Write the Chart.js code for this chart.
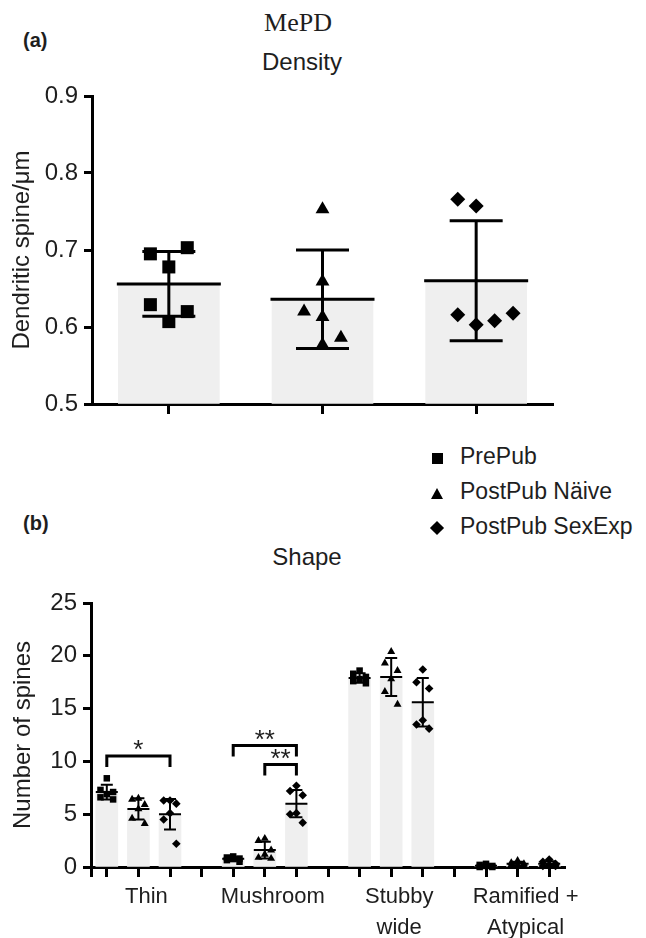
<!DOCTYPE html>
<html>
<head>
<meta charset="utf-8">
<script src="https://cdn.jsdelivr.net/npm/chart.js@4.4.1/dist/chart.umd.min.js"></script>
<style>
  body { margin: 0; background: #fff; }
  #page { position: relative; width: 646px; height: 938px; overflow: hidden; font-family: 'Liberation Sans', Arial, sans-serif; color: #1e1e1e; }
  #page canvas { position: absolute; left: 0; }
  .txt { position: absolute; white-space: nowrap; line-height: 1; }
  .mark { position: absolute; background: #000; }
</style>
</head>
<body>
<div id="page">
  <div class="txt" style="left:198px;width:200px;text-align:center;top:8px;font:26px 'Liberation Serif', 'Times New Roman', serif;">MePD</div>
  <div class="txt" style="left:23px;top:30px;font-weight:bold;font-size:20px;">(a)</div>
  <div class="txt" style="left:202px;width:200px;text-align:center;top:50px;font-size:24px;">Density</div>

  <div class="txt" style="left:460px;top:445px;font-size:23px;">PrePub</div>
  <div class="txt" style="left:460px;top:480px;font-size:23px;">PostPub Näive</div>
  <div class="txt" style="left:460px;top:515px;font-size:23px;">PostPub SexExp</div>
  <div class="mark" style="left:432px;top:453px;width:11px;height:11px;"></div>
  <div class="mark" style="left:431px;top:488px;background:none;border-left:6.5px solid transparent;border-right:6.5px solid transparent;border-bottom:11px solid #000;width:0;height:0;"></div>
  <div class="mark" style="left:432px;top:523px;width:10px;height:10px;transform:rotate(45deg);"></div>

  <div class="txt" style="left:23px;top:513px;font-weight:bold;font-size:20px;">(b)</div>
  <div class="txt" style="left:207px;width:200px;text-align:center;top:545px;font-size:24px;">Shape</div>

  <canvas id="densityChart" width="646" height="430" style="top:0"></canvas>
  <canvas id="shapeChart" width="646" height="378" style="top:560px"></canvas>
</div>

<script>
// ---- panel (a): spine density ----
const densityGroups = ['PrePub', 'PostPub Näive', 'PostPub SexExp']
const densityMean = [0.656, 0.636, 0.660]
const densitySD = [0.042, 0.064, 0.078]
const densityPrePub = [0.695, 0.703, 0.678, 0.629, 0.607, 0.620]
const densityNaive = [0.753, 0.659, 0.620, 0.613, 0.586, 0.577]
const densitySexExp = [0.766, 0.757, 0.616, 0.603, 0.608, 0.618]
const densityTicks = [0.5, 0.6, 0.7, 0.8, 0.9]

// ---- panel (b): spine shape ----
const shapeCategories = ['Thin', 'Mushroom', ['Stubby', 'wide'], ['Ramified +', 'Atypical']]
const shapeMeanPrePub = [7.1, 0.77, 17.9, 0.12]
const shapeMeanNaive = [5.5, 1.6, 18.0, 0.3]
const shapeMeanSexExp = [5.0, 6.0, 15.6, 0.3]
const shapeSDPrePub = [0.7, 0.15, 0.45, 0.1]
const shapeSDNaive = [1.0, 0.8, 1.8, 0.2]
const shapeSDSexExp = [1.45, 1.3, 2.3, 0.25]
const shapePrePub = [
  [8.4, 7.3, 7.1, 6.9, 6.6, 6.4],
  [1.0, 0.9, 0.8, 0.75, 0.65, 0.5],
  [18.6, 18.3, 18.0, 17.8, 17.6, 17.4],
  [0.3, 0.2, 0.1, 0.1, 0.0, 0.0]
]
const shapeNaive = [
  [6.5, 6.4, 5.9, 5.5, 4.6, 4.1],
  [2.7, 2.5, 1.6, 1.2, 0.9, 0.8],
  [20.4, 19.3, 18.6, 17.8, 16.6, 15.4],
  [0.6, 0.4, 0.3, 0.2, 0.2, 0.1]
]
const shapeSexExp = [
  [6.3, 6.3, 6.0, 5.1, 4.5, 2.2],
  [7.7, 7.2, 6.8, 5.1, 5.0, 4.2],
  [18.7, 17.5, 16.9, 13.9, 13.5, 13.1],
  [0.7, 0.5, 0.3, 0.2, 0.1, 0.1]
]
const shapeTicks = [0, 5, 10, 15, 20, 25]
// significance brackets: slot indices (group * 4 + member) and height
const shapeSignif = [
  { from: 0, to: 2, y: 10.5, label: '*' },
  { from: 4, to: 6, y: 11.5, label: '**' },
  { from: 5, to: 6, y: 9.7, label: '**' }
]

// horizontal scatter of the dots inside a bar (in category units)
const jitterDensity = [
  [-0.12, 0.12, 0, -0.12, 0, 0.12],
  [0, 0, -0.12, 0, 0.12, 0],
  [-0.12, 0, -0.12, 0, 0.12, 0.24]
]
const jitterShape = [0, -0.2, 0.2, 0, -0.2, 0.2]

const sans = "'Liberation Sans', Arial, sans-serif"
const textColor = '#1e1e1e'
const barGrey = '#efefef'

const meanSdPlugin = {
  id: 'meanSd',
  afterDatasetsDraw(chart, args, opts) {
    const ctx = chart.ctx
    const x = chart.scales.x
    const y = chart.scales.y
    ctx.save()
    ctx.strokeStyle = '#000'
    ctx.lineWidth = opts.lineWidth
    opts.items.forEach(it => {
      const cx = x.getPixelForValue(it.slot)
      const ym = y.getPixelForValue(it.mean)
      const yt = y.getPixelForValue(it.mean + it.sd)
      const yb = y.getPixelForValue(Math.max(it.mean - it.sd, y.min))
      ctx.beginPath()
      ctx.moveTo(cx, yt); ctx.lineTo(cx, yb)
      ctx.moveTo(cx - opts.capHalf, yt); ctx.lineTo(cx + opts.capHalf, yt)
      ctx.moveTo(cx - opts.capHalf, yb); ctx.lineTo(cx + opts.capHalf, yb)
      ctx.moveTo(cx - opts.meanHalf, ym); ctx.lineTo(cx + opts.meanHalf, ym)
      ctx.stroke()
    })
    ctx.lineWidth = 3
    ctx.fillStyle = textColor
    ctx.font = '26px ' + sans
    ctx.textAlign = 'center'
    ctx.textBaseline = 'alphabetic'
    ;(opts.brackets || []).forEach(b => {
      const x1 = x.getPixelForValue(b.from)
      const x2 = x.getPixelForValue(b.to)
      const yy = y.getPixelForValue(b.y)
      ctx.beginPath()
      ctx.moveTo(x1, yy + 11); ctx.lineTo(x1, yy)
      ctx.lineTo(x2, yy); ctx.lineTo(x2, yy + 11)
      ctx.stroke()
      ctx.fillText(b.label, (x1 + x2) / 2, yy + 2)
    })
    ctx.restore()
  }
}

const initDensity = () => {
  const ctx = document.getElementById('densityChart').getContext('2d')
  const dots = [densityPrePub, densityNaive, densitySexExp]
  const styles = [['rect', 9.2], ['triangle', 8], ['rectRot', 7.5]]

  let scales_chart = {
    x: {
      type: 'linear', min: -0.5, max: 2.5, z: 1, offset: false,
      afterBuildTicks: s => { s.ticks = densityGroups.map((g, i) => ({ value: i })) },
      afterFit: s => { s.height = 26 },
      ticks: { display: false },
      grid: { offset: false, drawOnChartArea: false, drawTicks: true, tickLength: 10, tickWidth: 3, tickColor: '#000' },
      border: { display: true, color: '#000', width: 3 }
    },
    y: {
      type: 'linear', min: 0.5, max: 0.9, z: 1,
      afterBuildTicks: s => { s.ticks = densityTicks.map(v => ({ value: v })) },
      afterFit: s => { s.width = 92 },
      ticks: { color: textColor, font: { family: sans, size: 24 }, padding: 6, callback: v => v.toFixed(1) },
      grid: { drawOnChartArea: false, drawTicks: true, tickLength: 8, tickWidth: 3, tickColor: '#000' },
      border: { display: true, color: '#000', width: 3 },
      title: { display: true, text: 'Dendritic spine/μm', color: textColor, font: { family: sans, size: 24 }, padding: { top: 8, bottom: 0 } }
    }
  }

  const datasets = [{
    type: 'bar',
    order: 1,
    data: densityMean.map((m, i) => ({ x: i, y: m })),
    backgroundColor: barGrey,
    barThickness: 101,
    base: 0.5
  }]
  dots.forEach((vals, g) => {
    datasets.push({
      type: 'scatter',
      order: 0,
      data: vals.map((v, i) => ({ x: g + jitterDensity[g][i], y: v })),
      pointStyle: styles[g][0],
      pointRadius: styles[g][1],
      backgroundColor: '#000',
      borderColor: '#000',
      borderWidth: 0,
      clip: false
    })
  })

  new Chart(ctx, {
    type: 'bar',
    data: { datasets },
    options: {
      responsive: false,
      animation: false,
      layout: { padding: { top: 96, right: 93, left: 0, bottom: 0 } },
      plugins: {
        legend: { display: false },
        tooltip: { enabled: false },
        meanSd: {
          lineWidth: 3, capHalf: 26.5, meanHalf: 52,
          items: densityMean.map((m, i) => ({ slot: i, mean: m, sd: densitySD[i] }))
        }
      },
      scales: scales_chart
    },
    plugins: [meanSdPlugin]
  })
}

const initShape = () => {
  const ctx = document.getElementById('shapeChart').getContext('2d')
  const groups = [shapePrePub, shapeNaive, shapeSexExp]
  const means = [shapeMeanPrePub, shapeMeanNaive, shapeMeanSexExp]
  const sds = [shapeSDPrePub, shapeSDNaive, shapeSDSexExp]
  const styles = [['rect', 4.6], ['triangle', 4.6], ['rectRot', 4.3]]
  const slot = (cat, g) => cat * 4 + g

  let scales_chart = {
    x: {
      type: 'linear', min: -0.5, max: 14.5, z: 1, offset: false,
      afterBuildTicks: s => {
        const t = [{ value: -0.5 }]
        for (let i = 0; i < 15; i++) t.push({ value: i })
        s.ticks = t
      },
      afterFit: s => { s.height = 71 },
      ticks: {
        color: textColor,
        font: { family: sans, size: 22, lineHeight: 1.42 },
        padding: 4,
        labelOffset: 8,
        maxRotation: 0,
        autoSkip: false,
        callback: v => (v >= 0 && v % 4 === 1) ? shapeCategories[(v - 1) / 4] : ''
      },
      grid: { offset: false, drawOnChartArea: false, drawTicks: true, tickLength: 10, tickWidth: 3, tickColor: '#000' },
      border: { display: true, color: '#000', width: 3 }
    },
    y: {
      type: 'linear', min: 0, max: 25, z: 1,
      afterBuildTicks: s => { s.ticks = shapeTicks.map(v => ({ value: v })) },
      afterFit: s => { s.width = 91 },
      ticks: { color: textColor, font: { family: sans, size: 24 }, padding: 6 },
      grid: { drawOnChartArea: false, drawTicks: true, tickLength: 8, tickWidth: 3, tickColor: '#000' },
      border: { display: true, color: '#000', width: 3 },
      title: { display: true, text: 'Number of spines', color: textColor, font: { family: sans, size: 24 }, padding: { top: 9, bottom: 0 } }
    }
  }

  const barData = []
  const items = []
  means.forEach((arr, g) => arr.forEach((m, c) => {
    barData.push({ x: slot(c, g), y: m })
    items.push({ slot: slot(c, g), mean: m, sd: sds[g][c] })
  }))

  const datasets = [{
    type: 'bar',
    order: 1,
    data: barData,
    backgroundColor: barGrey,
    barThickness: 22
  }]
  groups.forEach((cats, g) => {
    const pts = []
    cats.forEach((vals, c) => vals.forEach((v, i) => pts.push({ x: slot(c, g) + jitterShape[i], y: v })))
    datasets.push({
      type: 'scatter',
      order: 0,
      data: pts,
      pointStyle: styles[g][0],
      pointRadius: styles[g][1],
      backgroundColor: '#000',
      borderColor: '#000',
      borderWidth: 0,
      clip: false
    })
  })

  new Chart(ctx, {
    type: 'bar',
    data: { datasets },
    options: {
      responsive: false,
      animation: false,
      layout: { padding: { top: 43, right: 81, left: 0, bottom: 0 } },
      plugins: {
        legend: { display: false },
        tooltip: { enabled: false },
        meanSd: { lineWidth: 2, capHalf: 6, meanHalf: 11, items, brackets: shapeSignif }
      },
      scales: scales_chart
    },
    plugins: [meanSdPlugin]
  })
}

initDensity()
initShape()
</script>
</body>
</html>
